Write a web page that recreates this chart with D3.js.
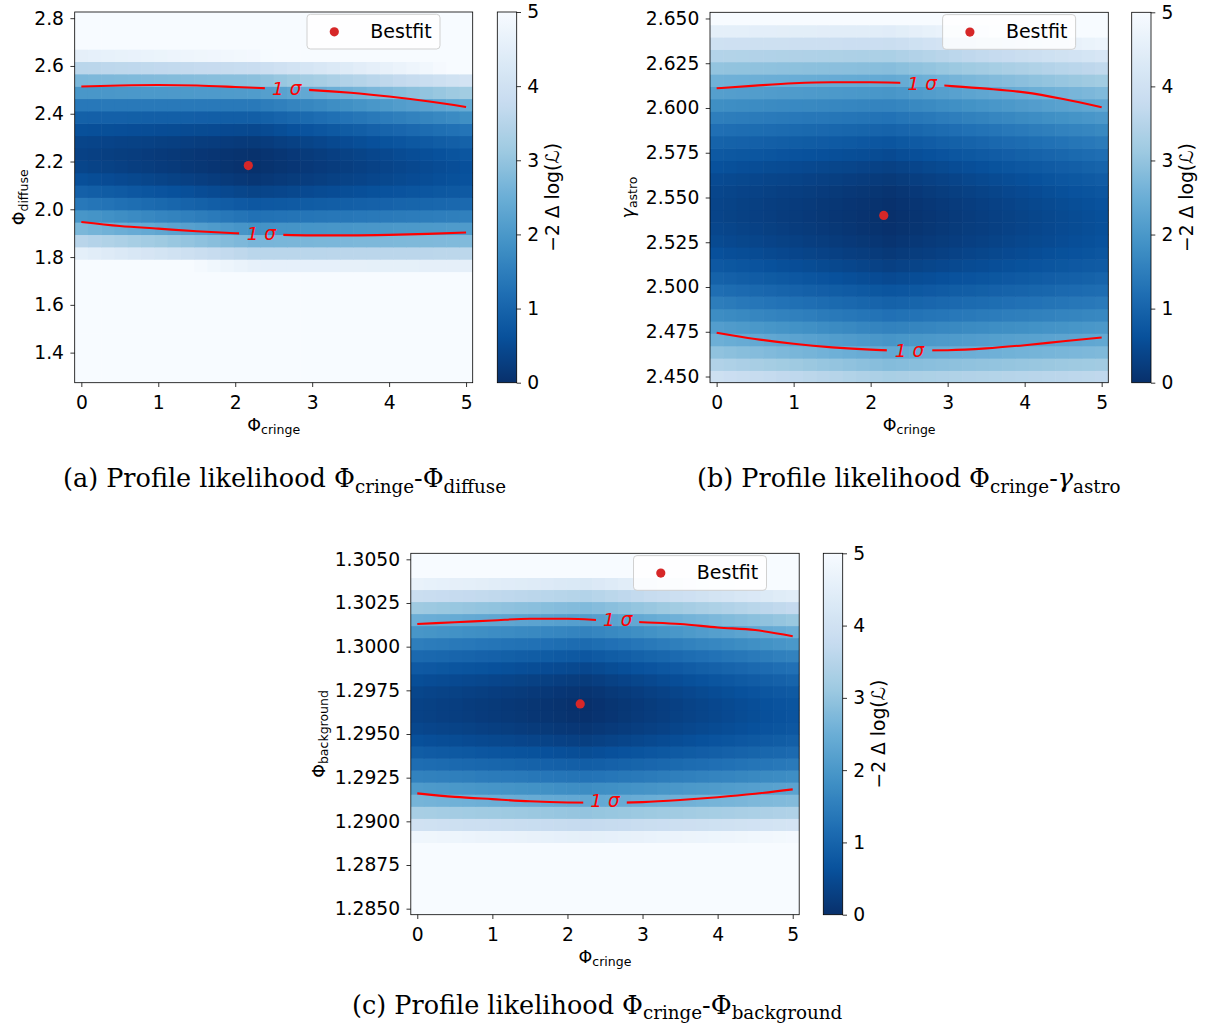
<!DOCTYPE html>
<html>
<head>
<meta charset="utf-8">
<script src="https://cdn.jsdelivr.net/npm/d3@7"></script>
<style>
  body { margin: 0; background: #ffffff; }
  svg { display: block; font-family: "DejaVu Sans", sans-serif; }
  .caption { font-family: "DejaVu Serif", "Liberation Serif", serif; }
</style>
</head>
<body>
<svg id="fig" width="1206" height="1029"></svg>
<script>
// ---- scan grid (30 x 30 points per profile scan) ----
const X_GRID = d3.range(30).map(i => i * 5 / 29);            // Phi_cringe scan points
const Y_GRID_A = d3.range(30).map(k => 1.3 + k * 1.5 / 29);  // Phi_diffuse scan points
const Y_GRID_B = d3.range(30).map(k => 2.45 + k * 0.2 / 29); // gamma_astro scan points
const Y_GRID_C = d3.range(30).map(k => 1.285 + k * 0.02 / 29); // Phi_background scan points

// Phi_cringe columns at which the -2 Delta log(L) row profiles are tabulated
const REF_COLS = [0, 2.24, 5];

// -2 Delta log(L) per scan row (bottom to top), panel a
const DELTA_A_LEFT  = [21.6,19.3,17.1,15.1,13.2,11.4,9.8,8.3,6.9,5.64,4.53,3.54,2.69,1.97,1.38,0.92,0.59,0.39,0.33,0.40,0.60,0.93,1.39,1.98,2.70,3.56,4.55,5.67,6.9,8.3];
const DELTA_A_MID   = [19.8,17.6,15.5,13.55,11.73,10.04,8.48,7.05,5.76,4.59,3.56,2.66,1.89,1.25,0.74,0.37,0.12,0.01,0.03,0.18,0.46,0.87,1.41,2.09,2.90,3.83,4.90,6.11,7.44,8.90];
const DELTA_A_RIGHT = [19.0,16.9,14.9,13.0,11.3,9.66,8.18,6.83,5.62,4.54,3.59,2.77,2.08,1.53,1.10,0.81,0.65,0.61,0.72,0.95,1.31,1.81,2.43,3.19,4.08,5.10,6.25,7.54,8.95,10.5];

// panel b
const DELTA_B_LEFT  = [3.93,3.42,2.95,2.52,2.13,1.78,1.47,1.19,0.96,0.77,0.61,0.49,0.42,0.38,0.38,0.42,0.50,0.62,0.78,0.98,1.22,1.49,1.81,2.16,2.56,2.99,3.46,3.97,4.53,5.11];
const DELTA_B_MID   = [3.30,2.81,2.36,1.95,1.57,1.24,0.95,0.70,0.48,0.31,0.17,0.08,0.02,0.00,0.02,0.08,0.18,0.32,0.50,0.71,0.97,1.27,1.60,1.97,2.39,2.84,3.33,3.86,4.43,5.04];
const DELTA_B_RIGHT = [3.65,3.18,2.75,2.36,2.01,1.69,1.42,1.18,0.99,0.83,0.72,0.64,0.60,0.60,0.64,0.72,0.84,0.99,1.19,1.43,1.70,2.02,2.37,2.76,3.19,3.67,4.18,4.73,5.31,5.94];

// panel c
const DELTA_C_LEFT  = [11.31,10.03,8.83,7.70,6.66,5.69,4.81,4.00,3.28,2.63,2.07,1.58,1.17,0.85,0.60,0.43,0.34,0.34,0.41,0.56,0.79,1.10,1.49,1.96,2.51,3.14,3.85,4.64,5.51,6.45];
const DELTA_C_MID   = [11.08,9.79,8.58,7.45,6.40,5.43,4.54,3.73,3.00,2.35,1.78,1.28,0.87,0.54,0.28,0.11,0.02,0.00,0.07,0.22,0.44,0.75,1.13,1.59,2.14,2.76,3.46,4.25,5.11,6.05];
const DELTA_C_RIGHT = [11.24,9.98,8.80,7.70,6.69,5.75,4.89,4.11,3.41,2.80,2.26,1.80,1.42,1.12,0.90,0.75,0.69,0.71,0.81,0.99,1.24,1.58,2.00,2.50,3.07,3.73,4.46,5.28,6.17,7.15];

// 1 sigma (2 dof) contour traces
const CONTOUR_X = [0, 0.5, 1, 1.5, 2, 2.5, 3, 3.5, 4, 4.5, 5];
const CONT_A_UP  = [2.514,2.518,2.520,2.518,2.512,2.505,2.499,2.488,2.472,2.452,2.428];
const CONT_A_LOW = [1.947,1.930,1.919,1.908,1.900,1.894,1.891,1.891,1.893,1.897,1.903];
const CONT_B_UP  = [2.6110,2.6125,2.6138,2.6144,2.6144,2.6138,2.6124,2.6108,2.6087,2.6050,2.6004];
const CONT_B_LOW = [2.4745,2.4710,2.4683,2.4663,2.4650,2.4645,2.4647,2.4657,2.4675,2.4697,2.4718];
const CONT_C_UP  = [1.3013,1.3014,1.3015,1.3016,1.3016,1.3015,1.3014,1.3013,1.3011,1.30095,1.3006];
const CONT_C_LOW = [1.2916,1.2914,1.29127,1.29115,1.29108,1.29106,1.29110,1.29122,1.29138,1.29158,1.29183];

// inline contour labels: [x, y] and the x-range cut out of the line
const LABEL_A_UP  = { at: [2.67, 2.508],   gap: [2.385, 2.96] };
const LABEL_A_LOW = { at: [2.34, 1.9008],  gap: [2.05, 2.625] };
const LABEL_B_UP  = { at: [2.67, 2.6138],  gap: [2.385, 2.957] };
const LABEL_B_LOW = { at: [2.505, 2.4648], gap: [2.21, 2.80] };
const LABEL_C_UP  = { at: [2.67, 1.30159], gap: [2.38, 2.955] };
const LABEL_C_LOW = { at: [2.50, 1.29122], gap: [2.21, 2.79] };

// best-fit points
const BEST_A = [2.17, 2.183];
const BEST_B = [2.17, 2.540];
const BEST_C = [2.17, 1.29672];

// tick values
const X_TICKS = [0, 1, 2, 3, 4, 5];
const Y_TICKS_A = [1.4, 1.6, 1.8, 2.0, 2.2, 2.4, 2.6, 2.8];
const Y_TICKS_B = [2.450, 2.475, 2.500, 2.525, 2.550, 2.575, 2.600, 2.625, 2.650];
const Y_TICKS_C = [1.2850, 1.2875, 1.2900, 1.2925, 1.2950, 1.2975, 1.3000, 1.3025, 1.3050];
const CB_TICKS = [0, 1, 2, 3, 4, 5];

// ---- colour map: reversed "Blues", 0 (dark) .. 5 (white) ----
const BLUES = ["#f7fbff","#deebf7","#c6dbef","#9ecae1","#6baed6","#4292c6","#2171b5","#08519c","#08306b"];
const color = d3.scaleLinear()
  .domain(d3.range(9).map(i => 5 - i * 5 / 8))
  .range(BLUES)
  .interpolate(d3.interpolateRgb)
  .clamp(true);

const svg = d3.select("#fig");
const defs = svg.append("defs");

const FS = 18.7; // tick label size

function cellValue(profiles, k, xv) {
  const [c0, c1, c2] = REF_COLS;
  if (xv <= c1) {
    const w = (xv - c0) / (c1 - c0);
    return profiles[0][k] * (1 - w) + profiles[1][k] * w;
  }
  const w = (xv - c1) / (c2 - c1);
  return profiles[1][k] * (1 - w) + profiles[2][k] * w;
}

function styleAxis(sel) {
  sel.attr("font-family", null).attr("font-size", FS);
  sel.select(".domain").remove();
  sel.selectAll(".tick line").attr("stroke", "#000").attr("stroke-width", 0.8);
  sel.selectAll(".tick text").attr("fill", "#000");
}

function drawPanel(cfg) {
  const g = svg.append("g");
  const xStep = 5 / 29;
  const yG = cfg.yGrid;
  const yStep = (yG[29] - yG[0]) / 29;

  const x = d3.scaleLinear().domain([-xStep / 2, 5 + xStep / 2]).range([cfg.left, cfg.right]);
  const y = d3.scaleLinear().domain([yG[0] - yStep / 2, yG[29] + yStep / 2]).range([cfg.bottom, cfg.top]);

  const clipId = "plot-" + cfg.id;
  defs.append("clipPath").attr("id", clipId)
    .append("rect").attr("x", cfg.left).attr("y", cfg.top)
    .attr("width", cfg.right - cfg.left).attr("height", cfg.bottom - cfg.top);

  // heat map cells
  const cells = [];
  yG.forEach((yv, k) => X_GRID.forEach(xv => cells.push({ xv, yv, v: cellValue(cfg.profiles, k, xv) })));
  g.append("g").attr("clip-path", `url(#${clipId})`)
    .selectAll("rect").data(cells).join("rect")
    .attr("x", d => x(d.xv - xStep / 2))
    .attr("y", d => y(d.yv + yStep / 2))
    .attr("width", d => x(d.xv + xStep / 2) - x(d.xv - xStep / 2) + 0.6)
    .attr("height", d => y(d.yv - yStep / 2) - y(d.yv + yStep / 2) + 0.6)
    .attr("fill", d => color(d.v));

  // contours with inline labels
  const line = d3.line().x(d => x(d[0])).y(d => y(d[1])).curve(d3.curveMonotoneX);
  cfg.contours.forEach((c, j) => {
    const id = `gap-${cfg.id}-${j}`;
    const cp = defs.append("clipPath").attr("id", id);
    cp.append("rect").attr("x", cfg.left).attr("y", cfg.top)
      .attr("width", x(c.label.gap[0]) - cfg.left).attr("height", cfg.bottom - cfg.top);
    cp.append("rect").attr("x", x(c.label.gap[1])).attr("y", cfg.top)
      .attr("width", cfg.right - x(c.label.gap[1])).attr("height", cfg.bottom - cfg.top);
    g.append("path")
      .datum(CONTOUR_X.map((xv, i) => [xv, c.ys[i]]))
      .attr("d", line)
      .attr("clip-path", `url(#${id})`)
      .attr("fill", "none").attr("stroke", "#ff0000").attr("stroke-width", 2.1);
    g.append("text")
      .attr("x", x(c.label.at[0])).attr("y", y(c.label.at[1]))
      .attr("dy", "0.36em").attr("text-anchor", "middle")
      .attr("fill", "#ff0000").attr("font-size", 18.5).attr("font-style", "italic")
      .text("1 σ");
  });

  // best fit
  g.append("circle").attr("cx", x(cfg.best[0])).attr("cy", y(cfg.best[1]))
    .attr("r", 4.6).attr("fill", "#d62728");

  // frame
  g.append("rect").attr("x", cfg.left).attr("y", cfg.top)
    .attr("width", cfg.right - cfg.left).attr("height", cfg.bottom - cfg.top)
    .attr("fill", "none").attr("stroke", "#000").attr("stroke-width", 0.8);

  // axes
  g.append("g").attr("transform", `translate(0,${cfg.bottom})`)
    .call(d3.axisBottom(x).tickValues(X_TICKS).tickFormat(d3.format("d")).tickSize(4.3).tickPadding(8.3))
    .call(styleAxis);
  g.append("g").attr("transform", `translate(${cfg.left},0)`)
    .call(d3.axisLeft(y).tickValues(cfg.yTicks).tickFormat(d3.format(cfg.yFmt)).tickSize(4.3).tickPadding(6.4))
    .call(styleAxis);

  // axis labels
  const xl = g.append("text").attr("x", (cfg.left + cfg.right) / 2).attr("y", cfg.bottom + 47.8)
    .attr("text-anchor", "middle").attr("font-size", 17.5);
  xl.append("tspan").text("Φ");
  xl.append("tspan").attr("font-size", 12.5).attr("dy", 3).text("cringe");

  const yl = g.append("text")
    .attr("transform", `translate(${cfg.yLabelX},${(cfg.top + cfg.bottom) / 2}) rotate(-90)`)
    .attr("text-anchor", "middle").attr("font-size", 17.5);
  yl.append("tspan").attr("font-style", cfg.yItalic ? "italic" : null).text(cfg.ySym);
  yl.append("tspan").attr("font-size", 12.5).attr("dy", 3).text(cfg.ySub);

  // legend
  const lw = 133, lh = 34.7;
  const lx = cfg.right - 32.7 - lw, ly = cfg.top + 2.3;
  g.append("rect").attr("x", lx).attr("y", ly).attr("width", lw).attr("height", lh)
    .attr("rx", 3.5).attr("fill", "#fff").attr("fill-opacity", 0.8)
    .attr("stroke", "#cccccc").attr("stroke-width", 0.9);
  g.append("circle").attr("cx", lx + 27.3).attr("cy", ly + 17.5).attr("r", 4.6).attr("fill", "#d62728");
  g.append("text").attr("x", lx + 63.3).attr("y", ly + 23.3).attr("font-size", 19).text("Bestfit");

  // colour bar
  const cb = cfg.cbar;
  const gradId = "grad-" + cfg.id;
  const grad = defs.append("linearGradient").attr("id", gradId)
    .attr("x1", 0).attr("y1", 1).attr("x2", 0).attr("y2", 0);
  d3.range(0, 1.0001, 0.02).forEach(t => {
    grad.append("stop").attr("offset", t).attr("stop-color", color(t * 5));
  });
  const cy = d3.scaleLinear().domain([0, 5]).range([cfg.bottom, cfg.top]);
  g.append("rect").attr("x", cb.left).attr("y", cfg.top)
    .attr("width", cb.right - cb.left).attr("height", cfg.bottom - cfg.top)
    .attr("fill", `url(#${gradId})`).attr("stroke", "#000").attr("stroke-width", 0.8);
  g.append("g").attr("transform", `translate(${cb.right},0)`)
    .call(d3.axisRight(cy).tickValues(CB_TICKS).tickFormat(d3.format("d")).tickSize(4.3).tickPadding(6.3))
    .call(styleAxis);
  const cl = g.append("text")
    .attr("transform", `translate(${cb.right + 42.3},${(cfg.top + cfg.bottom) / 2}) rotate(-90)`)
    .attr("text-anchor", "middle").attr("font-size", FS);
  cl.append("tspan").text("−2 Δ log(");
  cl.append("tspan").attr("font-style", "italic").text("ℒ");
  cl.append("tspan").text(")");

  // caption
  const cap = svg.append("text").attr("class", "caption")
    .attr("x", cfg.caption.x).attr("y", cfg.caption.y).attr("font-size", 25.5).attr("fill", "#000");
  cap.append("tspan").text(`(${cfg.id}) Profile likelihood Φ`);
  cap.append("tspan").attr("font-size", 18.3).attr("dy", 5.5).text("cringe");
  cap.append("tspan").attr("dy", -5.5).text("-");
  cap.append("tspan").attr("font-style", cfg.yItalic ? "italic" : null).text(cfg.ySym);
  cap.append("tspan").attr("font-size", 18.3).attr("dy", 5.5).text(cfg.ySub);
}

drawPanel({
  id: "a", left: 74.7, right: 472.7, top: 12, bottom: 382.7,
  yGrid: Y_GRID_A, profiles: [DELTA_A_LEFT, DELTA_A_MID, DELTA_A_RIGHT],
  contours: [{ ys: CONT_A_UP, label: LABEL_A_UP }, { ys: CONT_A_LOW, label: LABEL_A_LOW }],
  best: BEST_A, yTicks: Y_TICKS_A, yFmt: ".1f",
  ySym: "Φ", ySub: "diffuse", yItalic: false, yLabelX: 24.5,
  cbar: { left: 497.3, right: 516.7 },
  caption: { x: 63, y: 487.3 }
});

drawPanel({
  id: "b", left: 710, right: 1108.3, top: 12.3, bottom: 382.7,
  yGrid: Y_GRID_B, profiles: [DELTA_B_LEFT, DELTA_B_MID, DELTA_B_RIGHT],
  contours: [{ ys: CONT_B_UP, label: LABEL_B_UP }, { ys: CONT_B_LOW, label: LABEL_B_LOW }],
  best: BEST_B, yTicks: Y_TICKS_B, yFmt: ".3f",
  ySym: "γ", ySub: "astro", yItalic: true, yLabelX: 634,
  cbar: { left: 1131.7, right: 1151 },
  caption: { x: 697, y: 487.3 }
});

drawPanel({
  id: "c", left: 410.8, right: 799.2, top: 553.3, bottom: 914.7,
  yGrid: Y_GRID_C, profiles: [DELTA_C_LEFT, DELTA_C_MID, DELTA_C_RIGHT],
  contours: [{ ys: CONT_C_UP, label: LABEL_C_UP }, { ys: CONT_C_LOW, label: LABEL_C_LOW }],
  best: BEST_C, yTicks: Y_TICKS_C, yFmt: ".4f",
  ySym: "Φ", ySub: "background", yItalic: false, yLabelX: 325,
  cbar: { left: 823.3, right: 842.7 },
  caption: { x: 352, y: 1013.6 }
});
</script>
</body>
</html>
